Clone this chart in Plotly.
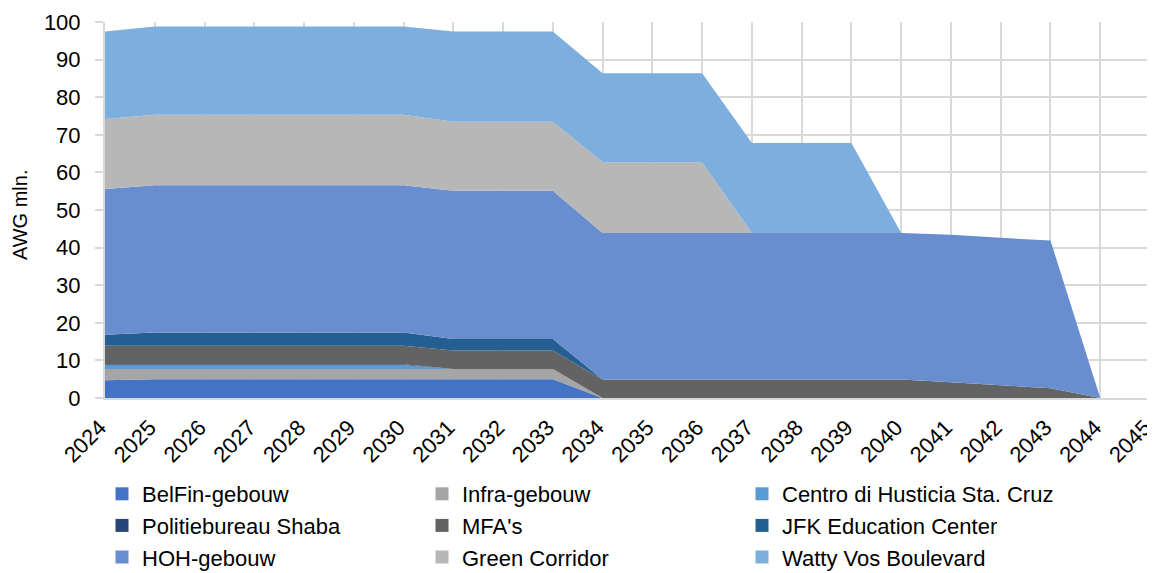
import plotly.graph_objects as go

years = list(range(2024, 2046))

# values in AWG mln. (bottom to top)
belfin = [4.7] + [5.0] * 9 + [0] * 12
infra = [3.0] + [2.7] * 9 + [0] * 12
centro = [1.1] * 7 + [0] * 15
politie = [0.2] * 7 + [0] * 15
mfa = [4.9] * 17 + [4.2, 3.4, 2.6, 0, 0]
jfk = [2.9] + [3.5] * 6 + [3.1] * 3 + [0] * 12
hoh = [38.8] + [39.2] * 6 + [39.4] * 3 + [39.0] * 7 + [39.2, 39.2, 39.3, 0, 0]
green = [18.6] + [18.7] * 6 + [18.4] * 3 + [18.8] * 3 + [0] * 9
watty = [23.3] + [23.5] * 6 + [24.0] * 3 + [23.7] * 3 + [23.9] * 3 + [0] * 6

series = [
    ("BelFin-gebouw", belfin, "#4472C4"),
    ("Infra-gebouw", infra, "#A5A5A5"),
    ("Centro di Husticia Sta. Cruz", centro, "#5B9BD5"),
    ("Politiebureau Shaba", politie, "#264478"),
    ("MFA's", mfa, "#636363"),
    ("JFK Education Center", jfk, "#255E91"),
    ("HOH-gebouw", hoh, "#698ED0"),
    ("Green Corridor", green, "#B7B7B7"),
    ("Watty Vos Boulevard", watty, "#7CAFDD"),
]

fig = go.Figure()

# stacked areas
for name, vals, col in series:
    fig.add_trace(go.Scatter(
        x=years, y=vals, name=name, stackgroup="one", mode="none",
        fillcolor=col, line=dict(width=0), showlegend=False,
    ))

# square legend markers, 3 columns filled row by row
legend_ids = ["legend", "legend2", "legend3"]
for i, (name, vals, col) in enumerate(series):
    fig.add_trace(go.Scatter(
        x=[None], y=[None], name=name, mode="markers",
        marker=dict(symbol="square", size=13, color=col),
        legend=legend_ids[i % 3], legendgroup=name,
    ))

grid = "#D9D9D9"
leg = dict(
    orientation="v", xref="container", yref="container",
    y=1 - 465 / 573, xanchor="left", yanchor="top",
    itemwidth=30, traceorder="normal", tracegroupgap=3,
    font=dict(size=22), bgcolor="rgba(0,0,0,0)",
)
fig.update_layout(
    width=1155, height=573,
    # page body adds ~8px offset, margins compensate for it
    margin=dict(l=97, r=13, t=14, b=183, autoexpand=False),
    plot_bgcolor="white", paper_bgcolor="white",
    font=dict(family="Liberation Sans, Arial", size=22, color="#000000"),
    xaxis=dict(
        range=[2024, 2045], tickmode="linear", dtick=1, tickangle=-45,
        showgrid=True, gridcolor=grid, gridwidth=2,
        showline=True, linecolor=grid, linewidth=2,
        zeroline=False, tickfont=dict(size=22), automargin=False,
        ticklabelshift=-5, ticklabelstandoff=6,
    ),
    yaxis=dict(
        range=[0, 100], dtick=10,
        showgrid=True, gridcolor=grid, gridwidth=2,
        showline=True, linecolor=grid, linewidth=2,
        ticks="outside", ticklen=8, tickcolor=grid, tickwidth=2,
        zeroline=False, tickfont=dict(size=22), automargin=False,
        ticklabelstandoff=10,
    ),
    annotations=[dict(
        text="AWG mln.", xref="paper", yref="paper",
        x=-(105 - 20) / 1045, y=0.487, xanchor="center", yanchor="middle",
        textangle=-90, showarrow=False, font=dict(size=20),
    )],
    legend=dict(leg, x=94 / 1155),
    legend2=dict(leg, x=414 / 1155),
    legend3=dict(leg, x=734 / 1155),
)

fig.write_html("out.html")
